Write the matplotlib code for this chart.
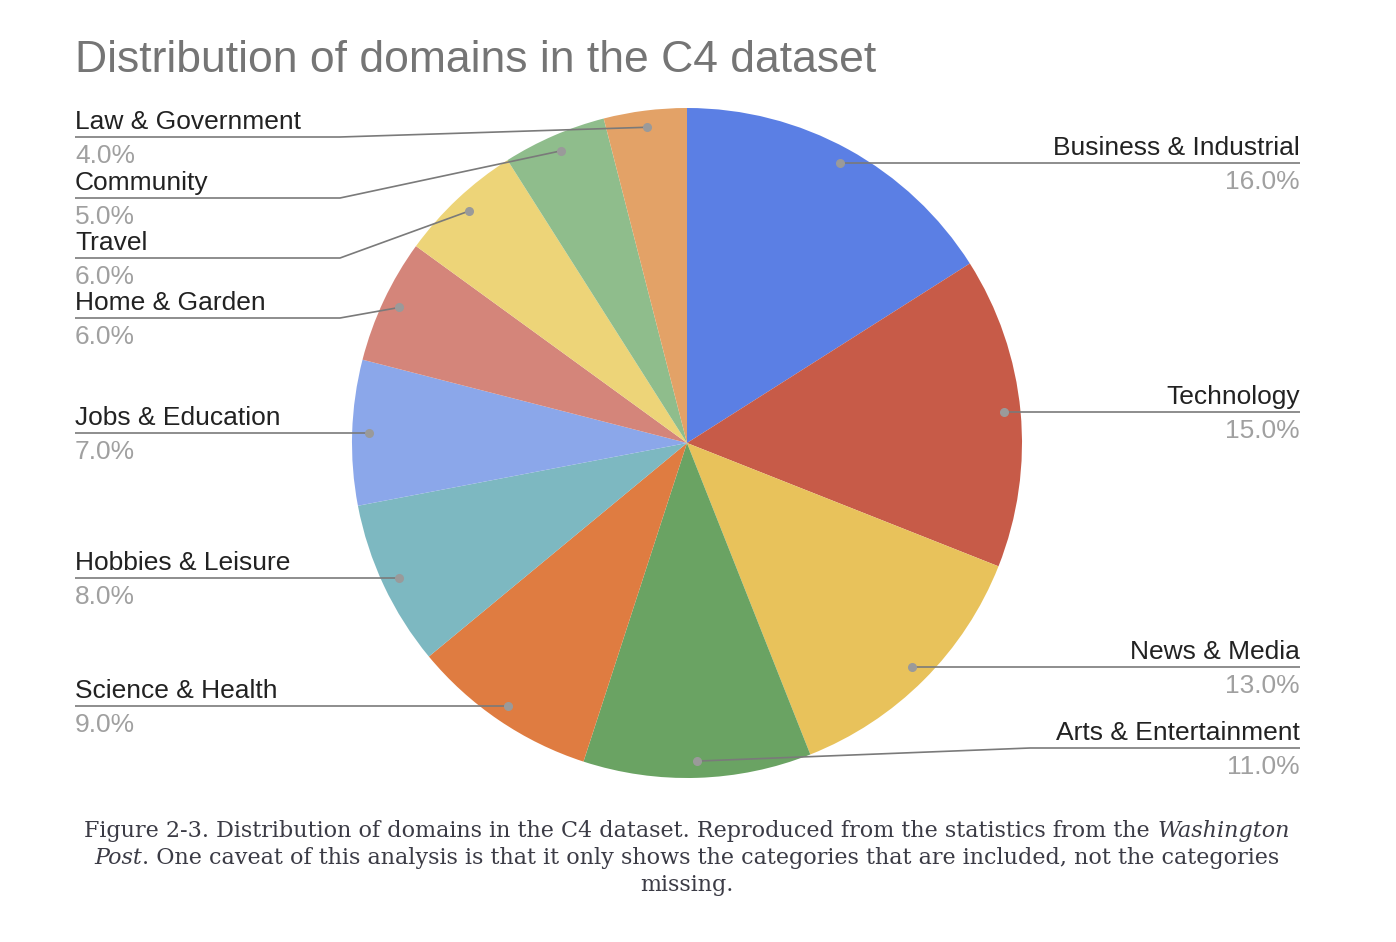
import numpy as np
import matplotlib
matplotlib.use('Agg')
import matplotlib.pyplot as plt

# data
domains = ['Business & Industrial', 'Technology', 'News & Media', 'Arts & Entertainment',
           'Science & Health', 'Hobbies & Leisure', 'Jobs & Education', 'Home & Garden',
           'Travel', 'Community', 'Law & Government']
shares = [16.0, 15.0, 13.0, 11.0, 9.0, 8.0, 7.0, 6.0, 6.0, 5.0, 4.0]
colors = ['#5B7FE4', '#C75B48', '#E8C25B', '#6AA363', '#DF7C41', '#7DB8C1',
          '#8BA7EA', '#D4857A', '#EDD478', '#8FBD8C', '#E3A267']

# label layout in pixels: (side, y of underline, elbow x or None)
label_pos = [('r', 163, None), ('r', 412, None), ('r', 667, None), ('r', 748, 1030),
             ('l', 706, None), ('l', 578, None), ('l', 433, None), ('l', 318, 340),
             ('l', 258, 340), ('l', 198, 340), ('l', 137, 340)]

W, H = 1396, 942
def Y(y):
    return H - y

fig = plt.figure(figsize=(W / 100, H / 100), dpi=100)
ax = fig.add_axes([0, 0, 1, 1])

cx, cy, R = 687, Y(443), 335
wedges, _ = ax.pie(shares, colors=colors, startangle=90, counterclock=False,
                   center=(cx, cy), radius=R, wedgeprops=dict(linewidth=0),
                   frame=True)
ax.set_xlim(0, W)
ax.set_ylim(0, H)
ax.set_aspect('equal')
ax.axis('off')

sans = 'Liberation Sans'
for w, name, val, (side, ly, elbow) in zip(wedges, domains, shares, label_pos):
    mid = np.deg2rad((w.theta1 + w.theta2) / 2)
    dx = cx + 0.95 * R * np.cos(mid)
    dy = cy + 0.95 * R * np.sin(mid)
    x_end = 1300 if side == 'r' else 75
    if elbow is None:
        dy = Y(ly)
        xs, ys = [x_end, dx], [Y(ly), Y(ly)]
    else:
        xs, ys = [x_end, elbow, dx], [Y(ly), Y(ly), dy]
    ax.plot(xs, ys, color='#7a7a7a', lw=1.2, solid_capstyle='butt', zorder=3)
    ax.plot([dx], [dy], 'o', color='#9a9a9a', ms=5.5, zorder=4)
    ha = 'right' if side == 'r' else 'left'
    ax.text(x_end, Y(ly) + 3, name, ha=ha, va='bottom', fontsize=19,
            family=sans, color='#222222')
    ax.text(x_end, Y(ly) - 7, '%.1f%%' % val, ha=ha, va='top', fontsize=19,
            family=sans, color='#a0a0a0')

ax.text(75, Y(61), 'Distribution of domains in the C4 dataset', ha='left', va='center',
        fontsize=32, family=sans, color='#757575')

# caption with italic parts, centred line by line
serif = 'DejaVu Serif'
cap_lines = [
    [('Figure 2-3. Distribution of domains in the C4 dataset. Reproduced from the statistics from the ', 'normal'),
     ('Washington', 'italic')],
    [('Post', 'italic'),
     ('. One caveat of this analysis is that it only shows the categories that are included, not the categories', 'normal')],
    [('missing.', 'normal')],
]
cap_y = [831, 858, 885]
renderer = fig.canvas.get_renderer()
for parts, yy in zip(cap_lines, cap_y):
    texts = []
    for s, st in parts:
        t = ax.text(0, Y(yy), s, ha='left', va='center', fontsize=16,
                    family=serif, style=st, color='#3b3b45')
        texts.append(t)
    widths = [t.get_window_extent(renderer).width for t in texts]
    x0 = 687 - sum(widths) / 2
    for t, wd in zip(texts, widths):
        t.set_x(x0)
        x0 += wd

fig.savefig('out.png', dpi=100, facecolor='white')
